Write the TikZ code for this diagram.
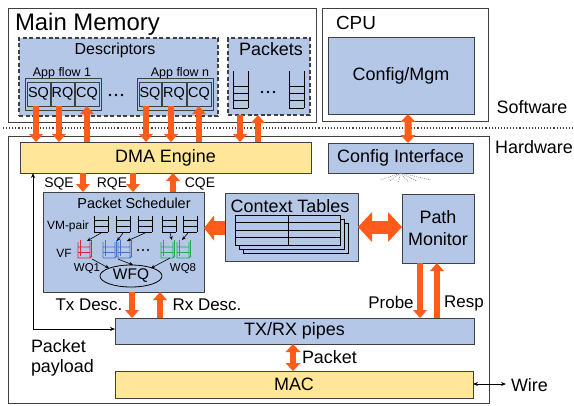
\documentclass[tikz,border=0pt]{standalone}
\usepackage{fontspec}
\setmainfont{Liberation Sans}
\usetikzlibrary{arrows.meta,fit,shapes.geometric,calc}
\definecolor{bfill}{RGB}{180,199,231}
\definecolor{yfill}{RGB}{255,230,153}
\definecolor{edge}{RGB}{64,64,64}
\definecolor{oarr}{RGB}{255,92,28}
\definecolor{qred}{RGB}{215,40,50}
\definecolor{qblue}{RGB}{68,114,196}
\definecolor{qgreen}{RGB}{30,170,90}
\newcommand\myfs[1]{\fontsize{#1}{#1}\selectfont}
\begin{document}
\begin{tikzpicture}[x=1bp,y=-1bp,
  every node/.style={inner sep=0pt,outer sep=0pt},
  box/.style={draw=edge,line width=0.9bp,rectangle},
  bluebox/.style={box,fill=bfill},
  yelbox/.style={box,fill=yfill},
  dbox/.style={box,fill=bfill,dash pattern=on 4bp off 2.5bp,line width=1.1bp},
  lbl/.style={anchor=base,font=\myfs{18}},
  qtxt/.style={font=\myfs{14.5}},
  oarrow/.style={draw=oarr,line width=6bp,-{Triangle[width=14bp,length=8bp,line width=0pt]}},
  odarrow/.style={draw=oarr,line width=7bp,{Triangle[width=15bp,length=8bp,line width=0pt]}-{Triangle[width=15bp,length=8bp,line width=0pt]}},
  thin/.style={draw=black,line width=0.6bp,-{Stealth[length=4bp,width=3.5bp]}},
  vmq/.pic={\draw[line width=0.8bp] (0,0)--(0,16) (14,0)--(14,16) (0,16)--(14,16) (0,4)--(14,4) (0,10)--(14,10);},
  vfq/.pic={\draw[line width=0.8bp] (2,-2)--(2,14) (13,-2)--(13,14);
            \draw[line width=0.8bp] (0,0)--(0,16)--(12,16)--(12,0) (0,5)--(12,5) (0,10.5)--(12,10.5) (12,16)--(14,14);},
  pkq/.pic={\draw[line width=0.9bp] (0,0)--(0,37) (15,0)--(15,37) (0,15)--(15,15) (0,22)--(15,22) (0,29.5)--(15,29.5) (0,37)--(15,37);}
]
\useasboundingbox (0,0) rectangle (574,405);

% ---------- software side ----------
\node[box,fill=white,fit={(8,8)(316,122)}] (mm) {};
\node[anchor=base west,font=\myfs{24}] (mmt) at (15,30) {Main Memory};
\node[dbox,fit={(19,38)(218,116)}] (desc) {};
\node[anchor=base,font=\myfs{16}] (desct) at (115,54) {Descriptors};
\node[anchor=base,font=\myfs{12.5}] (af1) at (62,76) {App flow 1};
\node[anchor=base,font=\myfs{12.5}] (afn) at (180,76) {App flow n};
\node[bluebox,fit={(25,78)(101,110)}] (g1) {};
\node[bluebox,fit={(27,82)(50,106)}] (sq1) {};
\node[bluebox,fit={(51,82)(74,106)}] (rq1) {};
\node[bluebox,fit={(75,82)(99,106)}] (cq1) {};
\node[bluebox,fit={(137,78)(213,110)}] (gn) {};
\node[bluebox,fit={(139,82)(161,106)}] (sqn) {};
\node[bluebox,fit={(162,82)(186,106)}] (rqn) {};
\node[bluebox,fit={(187,82)(211,106)}] (cqn) {};
\foreach \n/\t in {sq1/SQ,rq1/RQ,cq1/CQ,sqn/SQ,rqn/RQ,cqn/CQ}
  \node[qtxt] at (\n.center) {\t};
\foreach \x in {110,116,122} \fill (\x,95) circle (1.3bp);

\node[dbox,fit={(228,38)(310,115)}] (pk) {};
\node[anchor=base,font=\myfs{18}] (pkt) at (271,55) {Packets};
\pic at (233,71) {pkq};
\pic at (289,71) {pkq};
\foreach \x in {262,268,274} \fill (\x,92) circle (1.3bp);

\node[box,fill=white,fit={(322,8)(488,121)}] (cpu) {};
\node[anchor=base west,font=\myfs{19}] (cput) at (336,29) {CPU};
\node[bluebox,fit={(328,37)(474,114)}] (cfg) {};
\node[font=\myfs{18}] (cfgt) at (cfg.center) {Config/Mgm};

\node[lbl] (sw) at (532,113) {Software};
\node[lbl] (hwl) at (534,153) {Hardware};
\draw[edge,line width=1.1bp,dotted] (3,128) -- (574,128);

% ---------- hardware side ----------
\node[box,fill=white,fit={(8,136)(489,403)}] (hw) {};
\node[yelbox,fit={(20,142)(311,173)}] (dma) {};
\node[font=\myfs{18}] (dmat) at (dma.center) {DMA Engine};
\node[bluebox,fit={(328,143)(473,173)}] (ci) {};
\node[font=\myfs{18}] (cit) at (ci.center) {Config Interface};
\foreach \dx/\dy in {-20/7,-11/8,-2/9,8/9,16/8,30/7}
  \draw[gray,line width=0.5bp,dash pattern=on 1bp off 1bp] (ci.south) -- ++(\dx,\dy);

% memory <-> DMA arrows
\draw[oarrow] ($(sq1.south)+(-2.5,0)$) -- ($(sq1.south |- dma.north)+(-2.5,0)$);
\draw[oarrow] ($(rq1.south)+(-3.5,0)$) -- ($(rq1.south |- dma.north)+(-3.5,0)$);
\draw[oarrow] (cq1.south |- dma.north) -- (cq1.south);
\draw[oarrow] ($(sqn.south)+(-4,0)$) -- ($(sqn.south |- dma.north)+(-4,0)$);
\draw[oarrow] ($(rqn.south)+(-3,0)$) -- ($(rqn.south |- dma.north)+(-3,0)$);
\draw[oarrow] (cqn.south |- dma.north) -- (cqn.south);
\draw[oarrow] ($(pk.south)+(-29,0)$) -- ($(pk.south |- dma.north)+(-29,0)$);
\draw[oarrow] ($(pk.south |- dma.north)+(-11,0)$) -- ($(pk.south)+(-11,0)$);
\draw[odarrow] ($(cfg.south)+(7,0)$) -- ($(ci.north)+(7.5,0)$);

% packet scheduler
\node[bluebox,fit={(43,192)(204,292)}] (ps) {};
\node[anchor=base,font=\myfs{14.5}] (pst) at (134,208) {Packet Scheduler};
\node[anchor=base,font=\myfs{14}] (sqe) at (59,187) {SQE};
\node[anchor=base,font=\myfs{14}] (rqe) at (112,187) {RQE};
\node[anchor=base,font=\myfs{14}] (cqe) at (200,187) {CQE};
\draw[oarrow] (dma.south -| 83,0) -- (ps.north -| 83,0);
\draw[oarrow] (dma.south -| 133,0) -- (ps.north -| 133,0);
\draw[oarrow] (ps.north -| 173,0) -- (dma.south -| 173,0);

\node[anchor=base,font=\myfs{12}] (vmp) at (68,229) {VM-pair};
\foreach \x in {94,116,138,162,183} \pic at (\x,216) {vmq};
\node[anchor=base,font=\myfs{12}] (vf) at (64,257) {VF};
\pic[qred] at (78,242) {vfq};
\pic[qblue] at (103,242) {vfq};
\pic[qblue] at (118,242) {vfq};
\pic[qgreen] at (161,242) {vfq};
\pic[qgreen] at (177,242) {vfq};
\foreach \x in {138,143,148} \fill (\x,250) circle (1.1bp);
\node[anchor=base,font=\myfs{11.5}] (wq1) at (87,271) {WQ1};
\node[anchor=base,font=\myfs{11.5}] (wq8) at (183,271) {WQ8};
\node[draw=black,line width=0.8bp,ellipse,minimum width=62bp,minimum height=22bp,font=\myfs{15.5}] (wfq) at (131,276) {WFQ};
\coordinate (v1) at (101,233); \coordinate (v2) at (123,233); \coordinate (v3) at (145,233);
\coordinate (v4) at (170,233); \coordinate (v5) at (188,233);
\draw[thin] (v1) -- (87,241);
\draw[thin] (v2) -- (117,241);
\draw[thin] (v3) -- (127,241);
\draw[thin] (v4) -- (172,240);
\draw[thin] (v5) -- (182,240);
\coordinate (fr) at (92,259); \coordinate (fb) at (118,259); \coordinate (fg) at (170,258);
\draw[thin] (fr) -- (wfq.north west);
\draw[thin] (fb) -- ($(wfq.north)+(2,0)$);
\draw[thin] (fg) -- ($(wfq.north east)+(-2,0)$);

% context tables
\node[bluebox,fit={(225,193)(358,261)}] (ctx) {};
\node[anchor=base,font=\myfs{18}] (ctxt) at (290,212) {Context Tables};
\foreach \o in {8,4,0}
  \draw[fill=bfill,draw=black,line width=0.8bp] (235+\o,215+\o) rectangle (340+\o,245+\o);
\draw[black,line width=0.8bp] (235,222.5)--(340,222.5) (235,230)--(340,230) (235,237.5)--(340,237.5) (288,215)--(288,245);

% path monitor
\node[bluebox,fit={(402,194)(474,263)}] (pm) {};
\node[font=\fontsize{18}{22}\selectfont,align=center] (pmt) at (pm.center) {Path\\Monitor};
\draw[draw=oarr,line width=14bp,-{Triangle[width=25bp,length=10bp,line width=0pt]}] (ctx.west |- 0,228) -- (ps.east |- 0,228);
\draw[draw=oarr,line width=13bp,{Triangle[width=30bp,length=14bp,line width=0pt]}-{Triangle[width=30bp,length=14bp,line width=0pt]}] (ctx.east |- 0,227) -- (pm.west |- 0,227);

% tx/rx pipes and MAC
\node[bluebox,fit={(115,318)(474,344)}] (tx) {};
\node[font=\myfs{18}] (txt) at (tx.center) {TX/RX pipes};
\node[yelbox,fit={(115,371)(473,398)}] (mac) {};
\node[font=\myfs{18}] (mact) at (mac.center) {MAC};
\draw[oarrow] (ps.south -| 132,0) -- (tx.north -| 132,0);
\draw[oarrow] (tx.north -| 160,0) -- (ps.south -| 160,0);
\node[anchor=base,font=\myfs{17}] (txd) at (89,310) {Tx Desc.};
\node[anchor=base,font=\myfs{17}] (rxd) at (207,310) {Rx Desc.};
\draw[oarrow] (pm.south -| 420,0) -- (tx.north -| 420,0);
\draw[oarrow] (tx.north -| 437,0) -- (pm.south -| 437,0);
\node[anchor=base,font=\myfs{17}] (prb) at (391,308) {Probe};
\node[anchor=base,font=\myfs{17}] (rsp) at (464,307) {Resp};
\draw[odarrow,line width=6bp] (tx.south -| 293,0) -- (mac.north -| 293,0);
\node[anchor=base west,font=\myfs{18}] (pkl) at (302,363) {Packet};
\draw[line width=0.8bp,{Stealth[length=5bp,width=4bp]}-{Stealth[length=5bp,width=4bp]}] (dma.south -| 33,0) -- (33,329) -- (tx.west |- 0,329);
\node[anchor=north west,align=left,font=\fontsize{18}{21}\selectfont] (ppl) at (31,339) {Packet\\payload};
\coordinate (wire) at (506,384);
\draw[line width=0.8bp,{Stealth[length=5bp,width=4bp]}-{Stealth[length=5bp,width=4bp]}] (mac.east |- wire) -- (wire);
\node[anchor=base west,font=\myfs{18}] (wl) at (511,391) {Wire};
\end{tikzpicture}
\end{document}
